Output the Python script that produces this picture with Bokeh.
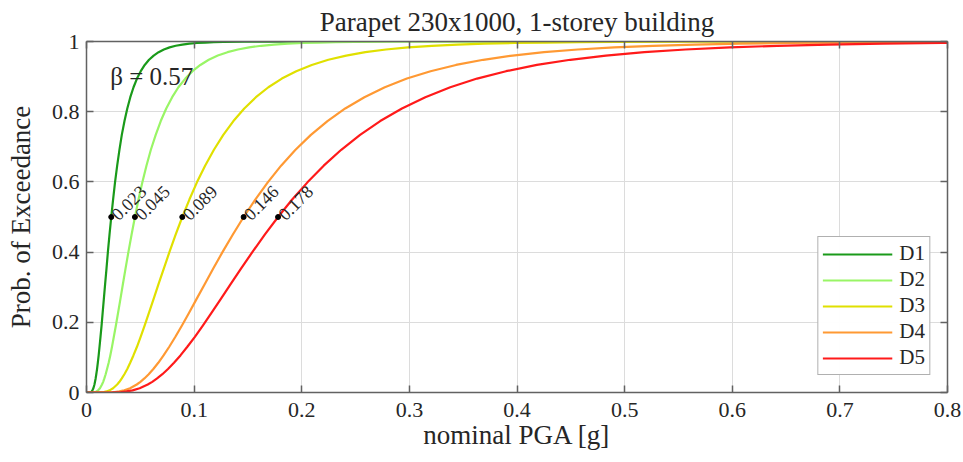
from bokeh.plotting import figure
from bokeh.models import LinearAxis, FixedTicker, Legend, LegendItem, Range1d, Label
from bokeh.core.properties import value
from bokeh.embed import file_html
from bokeh.resources import INLINE
import math

# ---- data ----
damage_states = ["D1", "D2", "D3", "D4", "D5"]
median_pga = [0.023, 0.045, 0.089, 0.146, 0.178]
median_labels = ["0.023", "0.045", "0.089", "0.146", "0.178"]
beta = 0.57

# probability of exceedance values along each curve
poe = [0.0, 0.0002, 0.0013, 0.0030, 0.0062, 0.0122, 0.0228, 0.0304, 0.0401, 0.0521,
       0.0668, 0.0846, 0.1056, 0.1303, 0.1587, 0.1908, 0.2266, 0.2660, 0.3085, 0.3538,
       0.4013, 0.4503, 0.5000, 0.5497, 0.5987, 0.6462, 0.6915, 0.7340, 0.7734, 0.8092,
       0.8413, 0.8697, 0.8944, 0.9154, 0.9332, 0.9479, 0.9599, 0.9696, 0.9772, 0.9832,
       0.9878, 0.9912, 0.9938, 0.9957, 0.9970, 0.9980, 0.9987, 0.9994, 0.9998, 1.0000]

pga_D1 = [0.0, 0.0031, 0.0042, 0.0048, 0.0055, 0.0064, 0.0074, 0.0079, 0.0085, 0.0091,
          0.0098, 0.0105, 0.0113, 0.0121, 0.0130, 0.0140, 0.0150, 0.0161, 0.0173, 0.0186,
          0.0199, 0.0214, 0.0230, 0.0247, 0.0265, 0.0285, 0.0306, 0.0328, 0.0353, 0.0379,
          0.0407, 0.0437, 0.0469, 0.0504, 0.0541, 0.0581, 0.0624, 0.0670, 0.0719, 0.0772,
          0.0829, 0.0891, 0.0956, 0.1027, 0.1103, 0.1184, 0.1272, 0.1466, 0.1691, 0.2249]
pga_D2 = [0.0, 0.0061, 0.0081, 0.0094, 0.0108, 0.0125, 0.0144, 0.0155, 0.0166, 0.0178,
          0.0191, 0.0206, 0.0221, 0.0237, 0.0254, 0.0273, 0.0293, 0.0315, 0.0338, 0.0363,
          0.0390, 0.0419, 0.0450, 0.0483, 0.0519, 0.0557, 0.0598, 0.0643, 0.0690, 0.0741,
          0.0796, 0.0854, 0.0918, 0.0985, 0.1058, 0.1136, 0.1220, 0.1310, 0.1407, 0.1511,
          0.1623, 0.1742, 0.1871, 0.2009, 0.2158, 0.2317, 0.2488, 0.2869, 0.3308, 0.4400]
pga_D3 = [0.0, 0.0121, 0.0161, 0.0186, 0.0214, 0.0247, 0.0285, 0.0306, 0.0328, 0.0352,
          0.0379, 0.0406, 0.0436, 0.0469, 0.0503, 0.0540, 0.0580, 0.0623, 0.0669, 0.0719,
          0.0772, 0.0829, 0.0890, 0.0956, 0.1026, 0.1102, 0.1184, 0.1271, 0.1365, 0.1466,
          0.1574, 0.1690, 0.1815, 0.1949, 0.2093, 0.2247, 0.2413, 0.2591, 0.2783, 0.2988,
          0.3209, 0.3446, 0.3700, 0.3974, 0.4267, 0.4582, 0.4921, 0.5675, 0.6543, 0.8702]
pga_D4 = [0.0, 0.0199, 0.0264, 0.0305, 0.0351, 0.0405, 0.0467, 0.0501, 0.0538, 0.0578,
          0.0621, 0.0667, 0.0716, 0.0769, 0.0826, 0.0887, 0.0952, 0.1022, 0.1098, 0.1179,
          0.1266, 0.1360, 0.1460, 0.1568, 0.1684, 0.1808, 0.1942, 0.2085, 0.2239, 0.2404,
          0.2582, 0.2772, 0.2977, 0.3197, 0.3433, 0.3687, 0.3959, 0.4251, 0.4565, 0.4902,
          0.5264, 0.5653, 0.6070, 0.6518, 0.7000, 0.7517, 0.8072, 0.9309, 1.0734, 1.4274]
pga_D5 = [0.0, 0.0242, 0.0322, 0.0371, 0.0428, 0.0494, 0.0569, 0.0611, 0.0656, 0.0705,
          0.0757, 0.0813, 0.0873, 0.0937, 0.1007, 0.1081, 0.1161, 0.1247, 0.1339, 0.1437,
          0.1544, 0.1658, 0.1780, 0.1911, 0.2053, 0.2204, 0.2367, 0.2542, 0.2729, 0.2931,
          0.3148, 0.3380, 0.3629, 0.3898, 0.4185, 0.4495, 0.4826, 0.5183, 0.5566, 0.5977,
          0.6418, 0.6892, 0.7401, 0.7947, 0.8535, 0.9165, 0.9842, 1.1349, 1.3087, 1.7403]
curves = [pga_D1, pga_D2, pga_D3, pga_D4, pga_D5]

x_ticks = [0, 0.1, 0.2, 0.3, 0.4, 0.5, 0.6, 0.7, 0.8]
y_ticks = [0, 0.2, 0.4, 0.6, 0.8, 1.0]

colors = ["#1a9a1a", "#99f566", "#e0e000", "#ff9933", "#ff1a1a"]

FONT = "Liberation Serif"
AX_COL = "#626262"
TXT_COL = "#262626"

p = figure(width=963, height=462, output_backend="svg", toolbar_location=None,
           x_range=Range1d(0, 0.8), y_range=Range1d(0, 1),
           min_border_left=86, min_border_right=16, min_border_top=40,
           min_border_bottom=70,
           title="Parapet 230x1000, 1-storey building")
p.outline_line_color = None
p.background_fill_color = "white"
p.border_fill_color = "white"

p.title.align = "center"
p.title.text_font = FONT
p.title.text_font_size = "27px"
p.title.text_font_style = "normal"
p.title.text_color = TXT_COL
p.title.standoff = 9

p.xaxis.ticker = FixedTicker(ticks=x_ticks)
p.yaxis.ticker = FixedTicker(ticks=y_ticks)
p.xaxis.major_label_overrides = {0: "0"}
p.yaxis.major_label_overrides = {0: "0", 1: "1"}
p.xaxis.axis_label = "nominal PGA [g]"
p.yaxis.axis_label = "Prob. of Exceedance"

for ax in [p.xaxis[0], p.yaxis[0]]:
    ax.axis_line_color = AX_COL
    ax.axis_line_width = 1.5
    ax.major_tick_line_color = AX_COL
    ax.major_tick_line_width = 1.5
    ax.major_tick_in = 7
    ax.major_tick_out = 0
    ax.minor_tick_line_color = None
    ax.major_label_text_font = FONT
    ax.major_label_text_font_size = "22px"
    ax.major_label_text_color = TXT_COL
    ax.axis_label_text_font = FONT
    ax.axis_label_text_font_size = "27px"
    ax.axis_label_text_font_style = "normal"
    ax.axis_label_text_color = TXT_COL

p.xaxis.major_label_standoff = 10
p.xaxis.axis_label_standoff = 0
p.yaxis.major_label_standoff = 7
p.yaxis.axis_label_standoff = 13

for loc, tk in [("above", x_ticks), ("right", y_ticks)]:
    ax = LinearAxis(ticker=FixedTicker(ticks=tk))
    ax.axis_line_color = AX_COL
    ax.axis_line_width = 1.5
    ax.major_tick_line_color = AX_COL
    ax.major_tick_line_width = 1.5
    ax.major_tick_in = 7
    ax.major_tick_out = 0
    ax.minor_tick_line_color = None
    ax.major_label_text_font_size = "0px"
    ax.major_label_standoff = 0
    p.add_layout(ax, loc)

p.xgrid.grid_line_color = "#dcdcdc"
p.ygrid.grid_line_color = "#dcdcdc"

renderers = []
for xs, c in zip(curves, colors):
    r = p.line(xs, poe, line_color=c, line_width=2.2, line_join="round")
    renderers.append(r)

p.scatter(median_pga, [0.5] * len(median_pga), size=5, color="black")
p.text(median_pga, [0.5] * len(median_pga), text=median_labels,
       angle=math.radians(45), x_offset=3, text_baseline="middle",
       text_align="left", text_font=value(FONT), text_font_size="18px",
       text_color=TXT_COL)

p.add_layout(Label(x=0.022, y=0.9, text="\u03b2 = %.2f" % beta,
                   text_font=FONT, text_font_size="25px", text_color=TXT_COL,
                   text_baseline="middle", text_align="left"))

legend = Legend(items=[LegendItem(label=n, renderers=[r])
                       for n, r in zip(damage_states, renderers)],
                location="bottom_right")
legend.margin = 17
legend.border_line_color = AX_COL
legend.border_line_width = 1.5
legend.label_text_font = FONT
legend.label_text_font_size = "21px"
legend.label_text_color = TXT_COL
legend.glyph_width = 70
legend.glyph_height = 18
legend.label_height = 18
legend.spacing = 1
legend.padding = 4
legend.label_standoff = 7
p.add_layout(legend)

open("out.html", "w").write(file_html(p, INLINE))
